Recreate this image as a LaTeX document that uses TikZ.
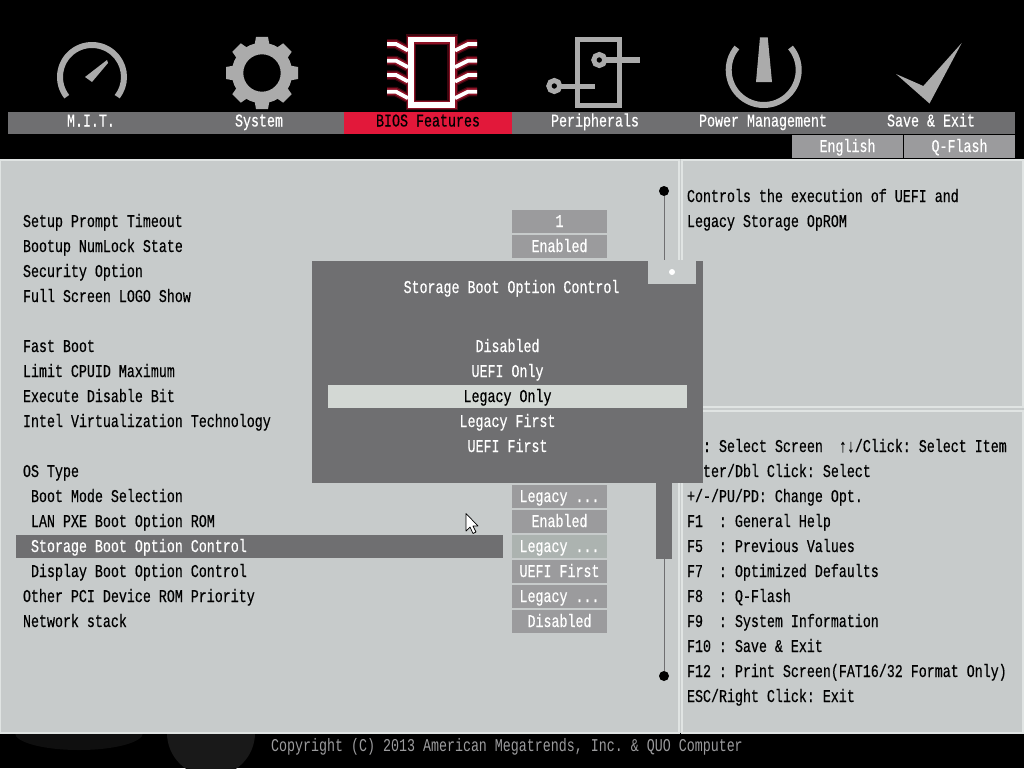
\documentclass[tikz,border=0pt]{standalone}
\usepackage{fontspec}
\usepackage{tikz}
\usetikzlibrary{positioning}
\newfontfamily\biosfont[FakeStretch=0.74,FakeBold=0.4]{Liberation Mono}
\newfontfamily\footfont[FakeStretch=0.74]{Liberation Mono}
\definecolor{panelgrey}{HTML}{C7CBCB}
\definecolor{panelline}{HTML}{E0E4E3}
\definecolor{bargrey}{HTML}{6F6F71}
\definecolor{btngrey}{HTML}{9B9B9D}
\definecolor{btnpale}{HTML}{ACB3B0}
\definecolor{iconfill}{HTML}{ABABAB}
\definecolor{biosred}{HTML}{E2183A}
\definecolor{glowred}{HTML}{8C1024}
\definecolor{pickbar}{HTML}{D3D8D4}

\begin{document}
\begin{tikzpicture}[
  x=1pt, y=-1pt,
  txt/.style={inner sep=0pt, outer sep=0pt, text height=11pt, text depth=0pt, font=\biosfont\fontsize{18}{18}\selectfont\frenchspacing},
  item/.style={txt, anchor=west, minimum height=25pt, text=black},
  row/.style={below=0pt of #1.south west, anchor=north west},
  menulabel/.style={txt, text=white},
  popitem/.style={txt, text=white, minimum height=25pt},
  valuebox/.style={txt, fill=btngrey, text=white, minimum width=95pt, minimum height=23pt},
  langbox/.style={txt, fill=btngrey, text=white, minimum width=111pt, minimum height=23pt},
  icon/.style={draw=iconfill, line width=5pt},
  panel/.style={draw=panelline, line width=1.2pt}
]
\useasboundingbox (0,0) rectangle (1024,768);
\fill[black] (0,0) rectangle (1024,768);

% Faint shapes behind the footer
\fill[black!94!white] (79,733) ellipse[x radius=64pt, y radius=17pt];
\fill[black!90!white] (211,733) ellipse[x radius=44pt, y radius=43.5pt];

% Panels
\fill[panelgrey] (0,159) rectangle (1024,733);
\draw[panel] (0.5,160) rectangle (679,733);
\draw[panel] (682,160) rectangle (1023,407);
\draw[panel] (682,411) rectangle (1023,733);

% Menu bar
\fill[bargrey] (8,112) rectangle (1015,134);
\fill[biosred] (344,112) rectangle (512,134);
\node[menulabel] (mit) at (91,121) {M.I.T.};
\node[menulabel] (system) at (259,121) {System};
\node[menulabel, text=black] (features) at (428,121) {BIOS Features};
\node[menulabel] (peripherals) at (595,121) {Peripherals};
\node[menulabel] (power) at (763,121) {Power Management};
\node[menulabel] (saveexit) at (931,121) {Save \& Exit};
\node[langbox] (english) at (847.5,146.5) {English};
\node[langbox, right=1pt of english] (qflash) {Q-Flash};

% Gauge icon
\draw[icon, line width=6pt] ([shift={(218:32pt)}]92,77) arc[start angle=218, end angle=-38, radius=32pt];
\fill[iconfill] (107,60) -- (108,63) -- (92,82) -- (85,77) -- cycle;

% Gear icon
\draw[icon, line width=11.5pt] (262,73) circle[radius=24.5pt];
\foreach \a in {0,45,...,315}
  \fill[iconfill, rotate around={\a:(262,73)}] (256,37) -- (268,37) -- (270,48) -- (254,48) -- cycle;

% Chip icon
\foreach \w/\f/\c in {10.5/9.5/glowred!45!black, 8/7/glowred, 5.4/3.8/white} {
  \draw[draw=\c, line width=\w pt, line join=miter] (410.8,39.6) rectangle (452.6,105);
  \foreach \y in {44,60.7,75,91.7} {
    \draw[draw=\c, line width=\f pt] (387,\y) -- (396,\y) -- (408,\y+6.5);
    \draw[draw=\c, line width=\f pt] (477,\y) -- (468,\y) -- (455,\y+6.5);
  }
}

% Peripherals icon
\draw[icon] (577,40) rectangle (619,105);
\draw[icon] (599.3,60) circle[radius=5.5pt];
\draw[icon] (605,60) -- (640,60);
\draw[icon] (554.3,86) circle[radius=5.5pt];
\draw[icon] (560,86) -- (595,86);

% Power icon
\draw[icon, line width=6pt] ([shift={(140:35pt)}]763.7,70) arc[start angle=140, end angle=400, radius=35pt];
\fill[iconfill] (760,37.3) -- (767.7,37.3) -- (772,82) -- (756,82) -- cycle;

% Check icon
\fill[iconfill] (961.7,43) -- (929.5,103.5) -- (896,74) -- (923.3,86) -- cycle;

% Settings list
\fill[bargrey] (16,535) rectangle (503,558);
\node[item] (timeout) at (23,221.5) {Setup Prompt Timeout};
\node[item, row=timeout] (numlock) {Bootup NumLock State};
\node[item, row=numlock] (security) {Security Option};
\node[item, row=security] (logo) {Full Screen LOGO Show};
\node[item] (fastboot) at (23,346.5) {Fast Boot};
\node[item, row=fastboot] (cpuid) {Limit CPUID Maximum};
\node[item, row=cpuid] (xdbit) {Execute Disable Bit};
\node[item, row=xdbit] (vt) {Intel Virtualization Technology};
\node[item] (ostype) at (23,471.5) {OS Type};
\node[item] (bootmode) at (31,496.5) {Boot Mode Selection};
\node[item, row=bootmode] (lanpxe) {LAN PXE Boot Option ROM};
\node[item, row=lanpxe, text=white] (storage) {Storage Boot Option Control};
\node[item, row=storage] (display) {Display Boot Option Control};
\node[item] (otherpci) at (23,596.5) {Other PCI Device ROM Priority};
\node[item, row=otherpci] (network) {Network stack};

% Values
\node[valuebox] (vtimeout) at (559.5,221.5) {1};
\node[valuebox, below=2pt of vtimeout] (vnumlock) {Enabled};
\node[valuebox] (vbootmode) at (559.5,496.5) {Legacy ...};
\node[valuebox, below=2pt of vbootmode] (vlanpxe) {Enabled};
\node[valuebox, below=2pt of vlanpxe, fill=btnpale] (vstorage) {Legacy ...};
\node[valuebox, below=2pt of vstorage] (vdisplay) {UEFI First};
\node[valuebox, below=2pt of vdisplay] (votherpci) {Legacy ...};
\node[valuebox, below=2pt of votherpci] (vnetwork) {Disabled};

% Help text
\node[item] (helpa) at (687,196.5) {Controls the execution of UEFI and};
\node[item, row=helpa] (helpb) {Legacy Storage OpROM};
\node[item] (keya) at (703,446.5) {: Select Screen~~↑↓/Click: Select Item};
\node[item, row=keya] (keyb) {ter/Dbl Click: Select};
\node[item] (keyc) at (687,496.5) {+/-/PU/PD: Change Opt.};
\node[item, row=keyc] (keyd) {F1~~: General Help};
\node[item, row=keyd] (keye) {F5~~: Previous Values};
\node[item, row=keye] (keyf) {F7~~: Optimized Defaults};
\node[item, row=keyf] (keyg) {F8~~: Q-Flash};
\node[item, row=keyg] (keyh) {F9~~: System Information};
\node[item, row=keyh] (keyi) {F10 : Save \& Exit};
\node[item, row=keyi] (keyj) {F12 : Print Screen(FAT16/32 Format Only)};
\node[item, row=keyj] (keyk) {ESC/Right Click: Exit};

% Scroll bar
\node[circle, fill=black, inner sep=0pt, minimum size=10pt] (scrolltop) at (664,191) {};
\node[circle, fill=black, inner sep=0pt, minimum size=10pt] (scrollend) at (664,676) {};
\draw[bargrey, line width=1pt] (scrolltop) -- (scrollend);
\fill[bargrey] (656,483) rectangle (672,559);

% Popup
\fill[bargrey] (312,261) rectangle (703,483);
\fill[panelgrey] (648,260) rectangle (696,284);
\node[circle, fill=white, inner sep=0pt, minimum size=6pt] (thumbdot) at (672,272) {};
\node[popitem] (poptitle) at (511.5,287.5) {Storage Boot Option Control};
\node[popitem] (popdisabled) at (507.5,346.5) {Disabled};
\node[popitem, below=0pt of popdisabled] (popuefi) {UEFI Only};
\fill[pickbar] (328,385) rectangle (687,408);
\node[popitem, below=0pt of popuefi, text=black] (poplegacy) {Legacy Only};
\node[popitem, below=0pt of poplegacy] (poplegfirst) {Legacy First};
\node[popitem, below=0pt of poplegfirst] (popuefifirst) {UEFI First};

% Pointer
\draw[black, fill=white, line width=0.7pt, line join=round] (466,513.5) -- (478,526) -- (473,526) -- (476,532) -- (473,533.5) -- (470,527) -- (466,531) -- cycle;

% Footer
\node[txt, text=btngrey, font=\footfont\fontsize{18}{18}\selectfont\frenchspacing] (copyright) at (507,746) {Copyright (C) 2013 American Megatrends, Inc. \& QUO Computer};
\end{tikzpicture}
\end{document}
